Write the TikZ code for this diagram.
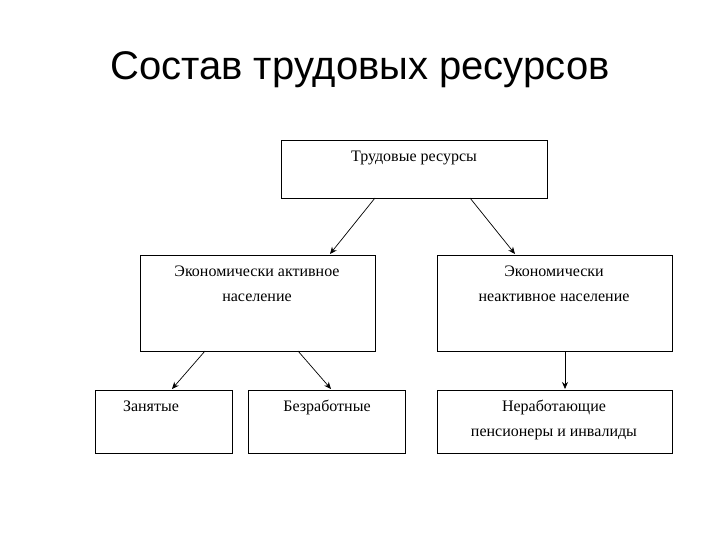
\documentclass[tikz,border=0pt]{standalone}
\usepackage{fontspec}
\setmainfont{Liberation Serif}
\newfontfamily\titlefont{Liberation Sans}
\usetikzlibrary{arrows.meta}
\begin{document}
\begin{tikzpicture}[x=1pt,y=-1pt,
  box/.style={draw,line width=0.8pt,inner sep=0pt},
  txt/.style={font=\fontsize{16}{25}\selectfont,align=center,anchor=north},
  arr/.style={-{Stealth[length=7pt,width=6pt]},line width=0.7pt}]
\useasboundingbox (0,0) rectangle (720,540);
\node[font=\titlefont\fontsize{40}{48}\selectfont] (title) at (360,70) {Состав трудовых ресурсов};
\draw[box] (281,140) rectangle (547,198);
\draw[box] (140,255) rectangle (375,351);
\draw[box] (437,255) rectangle (672,351);
\draw[box] (95,390) rectangle (232,453);
\draw[box] (248,390) rectangle (405,453);
\draw[box] (437,390) rectangle (672,453);
\node[txt] (t1) at (414,147) {Трудовые ресурсы};
\node[txt] (t2) at (257,262) {Экономически активное\\население};
\node[txt] (t3) at (554,262) {Экономически\\неактивное население};
\node[txt] (t4) at (151,397) {Занятые};
\node[txt] (t5) at (327,397) {Безработные};
\node[txt] (t6) at (554,397) {Неработающие\\пенсионеры и инвалиды};
\coordinate (a1) at (375,198); \coordinate (b1) at (330,254);
\coordinate (a2) at (470,198); \coordinate (b2) at (515,254);
\coordinate (a3) at (205,351); \coordinate (b3) at (172,389);
\coordinate (a4) at (298,351); \coordinate (b4) at (331,389);
\coordinate (a5) at (565,351); \coordinate (b5) at (565,389);
\foreach \i in {1,...,5} \draw[arr] (a\i) -- (b\i);
\end{tikzpicture}
\end{document}
